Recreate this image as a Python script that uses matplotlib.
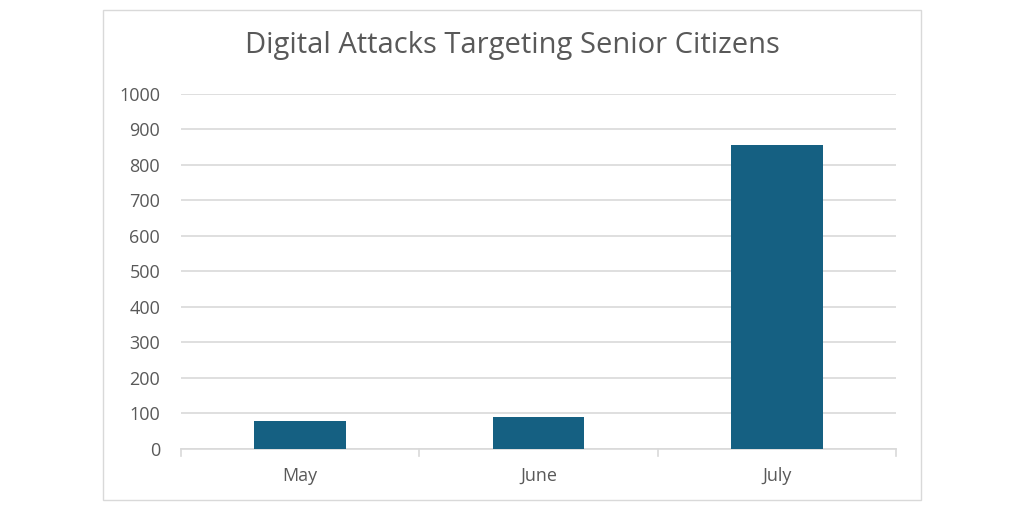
import matplotlib
matplotlib.use("Agg")
import matplotlib.pyplot as plt
from matplotlib.patches import Rectangle

categories = ["May", "June", "July"]
values = [78, 90, 856]
yticks = [0, 100, 200, 300, 400, 500, 600, 700, 800, 900, 1000]
title = "Digital Attacks Targeting Senior Citizens"

plt.rcParams['font.family'] = ['Open Sans', 'DejaVu Sans']
text_color = "#595959"
grid_color = "#d9d9d9"
bar_color = "#156082"

fig = plt.figure(figsize=(10.24, 5.12), dpi=100)
fig.patches.append(Rectangle((103/1024, 1-500/512), (921-103)/1024, (500-10)/512,
                             transform=fig.transFigure, fill=False,
                             edgecolor="#d9d9d9", linewidth=1))
ax = fig.add_axes([181/1024, 1-448.7/512, (896-181)/1024, (448.7-94)/512])

x = list(range(len(categories)))
ax.bar(x, values, width=0.385, color=bar_color, zorder=3)
ax.set_xlim(-0.5, len(categories)-0.5)
ax.set_ylim(0, 1000)
ax.set_yticks(yticks)
ax.set_yticklabels([str(v) for v in yticks])
ax.set_xticks(x)
ax.set_xticklabels(categories)
ax.yaxis.grid(True, color=grid_color, linewidth=1.2, zorder=0)
for s in ["top", "right", "left"]:
    ax.spines[s].set_visible(False)
ax.spines["bottom"].set_color(grid_color)
ax.spines["bottom"].set_linewidth(1.2)
ax.tick_params(axis="y", length=0, pad=15, labelsize=13, labelcolor=text_color)
ax.tick_params(axis="x", length=0, pad=13, labelsize=13, labelcolor=text_color)
# category boundary tick marks
for b in [-0.5, 0.5, 1.5, 2.5]:
    ax.plot([b, b], [0, -20], color=grid_color, linewidth=1.2, clip_on=False, zorder=2)

fig.text(512/1024, 1-46/512, title, ha="center", va="center", fontsize=21, color=text_color)

fig.savefig("out.png", dpi=100)
